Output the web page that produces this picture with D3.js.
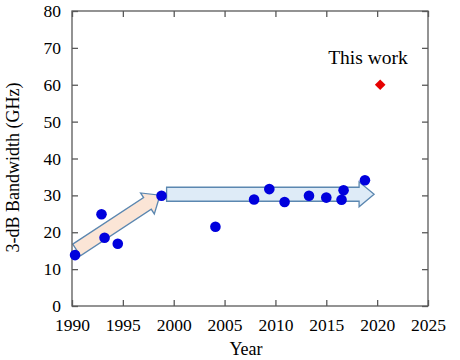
<!DOCTYPE html>
<html>
<head>
<meta charset="utf-8">
<script src="https://cdn.jsdelivr.net/npm/d3@7"></script>
<style>
  body { margin: 0; background: #fff; }
  text { font-family: "Liberation Serif", "Times New Roman", serif; fill: #000; }
</style>
</head>
<body>
<svg id="chart"></svg>
<script>
// reported devices: year vs 3-dB bandwidth
const years = [1990.3, 1992.9, 1993.2, 1994.5, 1998.8, 2004.1, 2007.9, 2009.4, 2010.9, 2013.3, 2015.0, 2016.7, 2016.5, 2018.8]
const bandwidth = [13.8, 24.9, 18.5, 16.9, 29.9, 21.5, 28.9, 31.7, 28.2, 29.9, 29.4, 31.4, 28.8, 34.1]

// this work
const thisYear = [2020.3]
const thisBw = [60]

const xTicks = [1990, 1995, 2000, 2005, 2010, 2015, 2020, 2025]
const yTicks = [0, 10, 20, 30, 40, 50, 60, 70, 80]

// trend arrows, tail -> tip in data units
const arrows = [
  {from: [1990.45, 15.2], to: [1998.65, 30.05], fill: '#fbe5d6'},
  {from: [1999.3, 30.3], to: [2019.7, 30.3], fill: '#deebf7'}
]

const W = 460, H = 360
const margin = {top: 11, right: 32, bottom: 54, left: 72}
const width = W - margin.left - margin.right
const height = H - margin.top - margin.bottom
const axisColor = '#595959'
const serif = '"Liberation Serif", "Times New Roman", serif'

const svg = d3.select('#chart').attr('width', W).attr('height', H)
const g = svg.append('g').attr('transform', `translate(${margin.left},${margin.top})`)

const x = d3.scaleLinear().domain([1990, 2025]).range([0, width])
const y = d3.scaleLinear().domain([0, 80]).range([height, 0])

// arrows (drawn under the points)
function arrowPath(a) {
  let x0 = x(a.from[0]), y0 = y(a.from[1])
  let x1 = x(a.to[0]), y1 = y(a.to[1])
  let len = Math.hypot(x1 - x0, y1 - y0)
  let ang = Math.atan2(y1 - y0, x1 - x0) * 180 / Math.PI
  let bw = 7, hw = 12.5, hl = 15
  let pts = [[0, -bw], [len - hl, -bw], [len - hl, -hw], [len, 0], [len - hl, hw], [len - hl, bw], [0, bw]]
  return {d: 'M' + pts.map(p => p.join(',')).join('L') + 'Z', t: `translate(${x0},${y0}) rotate(${ang})`}
}

g.selectAll('.arrow')
  .data(arrows)
  .join('path')
    .attr('class', 'arrow')
    .attr('d', d => arrowPath(d).d)
    .attr('transform', d => arrowPath(d).t)
    .attr('fill', d => d.fill)
    .attr('stroke', '#5b87b0')
    .attr('stroke-width', 1.3)

// frame + axes
g.append('rect')
  .attr('width', width).attr('height', height)
  .attr('fill', 'none').attr('stroke', axisColor).attr('stroke-width', 1.3)

const tickLen = 6
g.append('g').attr('transform', `translate(0,${height})`)
  .call(d3.axisBottom(x).tickValues(xTicks).tickFormat(d3.format('d')).tickSizeInner(-tickLen).tickSizeOuter(0).tickPadding(13))
g.append('g')
  .call(d3.axisLeft(y).tickValues(yTicks).tickSizeInner(-tickLen).tickSizeOuter(0).tickPadding(11))
// mirrored ticks on top and right
g.append('g').call(d3.axisTop(x).tickValues(xTicks).tickFormat('').tickSizeInner(-tickLen).tickSizeOuter(0))
g.append('g').attr('transform', `translate(${width},0)`)
  .call(d3.axisRight(y).tickValues(yTicks).tickFormat('').tickSizeInner(-tickLen).tickSizeOuter(0))

g.selectAll('.domain').remove()
g.selectAll('.tick line').attr('stroke', axisColor).attr('stroke-width', 1.3)
g.selectAll('.tick text')
  .attr('font-family', serif)
  .style('font-family', serif)
  .style('font-size', '17.5px')
  .attr('fill', '#000')

// data points
g.selectAll('.dot')
  .data(years.map((yr, i) => [yr, bandwidth[i]]))
  .join('circle')
    .attr('class', 'dot')
    .attr('cx', d => x(d[0]))
    .attr('cy', d => y(d[1]))
    .attr('r', 5.3)
    .attr('fill', '#0000dd')

g.selectAll('.mine')
  .data(thisYear.map((yr, i) => [yr, thisBw[i]]))
  .join('path')
    .attr('class', 'mine')
    .attr('d', d3.symbol(d3.symbolDiamond2, 72))
    .attr('transform', d => `translate(${x(d[0])},${y(d[1])})`)
    .attr('fill', '#e60000')

g.append('text')
  .attr('x', x(2019.1)).attr('y', y(65.6))
  .attr('text-anchor', 'middle')
  .style('font-size', '19.5px')
  .text('This work')

// axis titles
svg.append('text')
  .attr('x', margin.left + width / 2 - 4).attr('y', 355)
  .attr('text-anchor', 'middle')
  .style('font-size', '18px')
  .text('Year')

svg.append('text')
  .attr('transform', `translate(19,${margin.top + height / 2 + 9}) rotate(-90)`)
  .attr('text-anchor', 'middle')
  .style('font-size', '18px')
  .text('3-dB Bandwidth (GHz)')
</script>
</body>
</html>
